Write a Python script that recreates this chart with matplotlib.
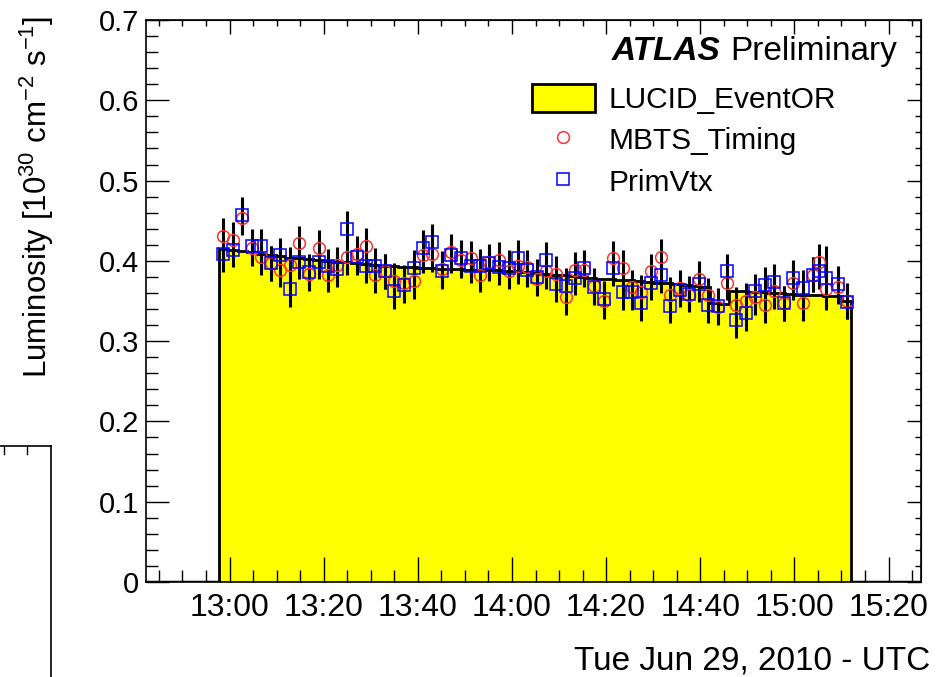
import numpy as np
import matplotlib
matplotlib.use("Agg")
import matplotlib.pyplot as plt
from matplotlib.lines import Line2D
from matplotlib.patches import Patch

plt.rcParams['font.family'] = ['Liberation Sans', 'DejaVu Sans']
plt.rcParams['mathtext.default'] = 'regular'

# minutes after 13:00 (Tue Jun 29, 2010 UTC)
times = [-1.3, 0.7, 2.7, 4.7, 6.7, 8.8, 10.8, 12.8, 14.8, 16.8,
         18.9, 20.9, 22.9, 24.9, 27.0, 29.0, 31.0, 33.0, 35.0, 37.0,
         39.1, 41.1, 43.1, 45.1, 47.1, 49.2, 51.2, 53.2, 55.2, 57.2,
         59.3, 61.3, 63.3, 65.3, 67.3, 69.4, 71.4, 73.4, 75.4, 77.4,
         79.5, 81.5, 83.5, 85.5, 87.5, 89.6, 91.6, 93.6, 95.6, 97.7,
         99.7, 101.7, 103.7, 105.6, 107.7, 109.8, 111.7, 113.8, 115.7, 117.8,
         119.8, 121.9, 123.9, 125.3, 126.8, 129.2, 131.1]

lucid = [0.415, 0.414, 0.412, 0.411, 0.409, 0.407, 0.406, 0.404, 0.403, 0.402,
         0.401, 0.400, 0.399, 0.398, 0.397, 0.396, 0.395, 0.394, 0.393, 0.392,
         0.392, 0.391, 0.391, 0.390, 0.390, 0.390, 0.389, 0.389, 0.388, 0.388,
         0.387, 0.387, 0.386, 0.385, 0.384, 0.383, 0.382, 0.381, 0.380, 0.379,
         0.378, 0.377, 0.376, 0.376, 0.375, 0.374, 0.373, 0.372, 0.371, 0.370,
         0.369, 0.368, 0.347, 0.346, 0.362, 0.362, 0.361, 0.361, 0.360, 0.360,
         0.359, 0.358, 0.357, 0.357, 0.356, 0.356, 0.350]

mbts = [0.431, 0.426, 0.454, 0.416, 0.405, 0.397, 0.389, 0.395, 0.422, 0.384,
        0.416, 0.383, 0.395, 0.405, 0.409, 0.419, 0.382, 0.387, 0.375, 0.373,
        0.375, 0.407, 0.408, 0.390, 0.411, 0.401, 0.403, 0.383, 0.399, 0.401,
        0.387, 0.393, 0.392, 0.378, 0.387, 0.384, 0.355, 0.389, 0.389, 0.369,
        0.350, 0.403, 0.391, 0.367, 0.361, 0.387, 0.405, 0.358, 0.366, 0.358,
        0.378, 0.357, 0.342, 0.373, 0.345, 0.350, 0.355, 0.345, 0.362, 0.347,
        0.373, 0.347, 0.383, 0.399, 0.365, 0.368, 0.350]

primvtx = [0.408, 0.414, 0.457, 0.418, 0.418, 0.397, 0.407, 0.365, 0.399, 0.386,
           0.399, 0.393, 0.390, 0.440, 0.405, 0.394, 0.394, 0.387, 0.362, 0.370,
           0.391, 0.416, 0.424, 0.387, 0.407, 0.404, 0.394, 0.393, 0.397, 0.392,
           0.391, 0.404, 0.389, 0.380, 0.401, 0.371, 0.369, 0.379, 0.391, 0.367,
           0.353, 0.391, 0.361, 0.361, 0.347, 0.373, 0.382, 0.344, 0.364, 0.359,
           0.371, 0.345, 0.344, 0.387, 0.326, 0.335, 0.362, 0.370, 0.374, 0.347,
           0.379, 0.366, 0.383, 0.387, 0.379, 0.371, 0.349]

mbts_err = 0.022
primvtx_err = [0.022] * 64 + [0.040, 0.022, 0.022]

tick_minutes = [0, 20, 40, 60, 80, 100, 120, 140]
tick_labels = ['13:00', '13:20', '13:40', '14:00', '14:20', '14:40', '15:00', '15:20']

edges = np.linspace(-2.25, 132.1, len(lucid) + 1)

fig = plt.figure(figsize=(9.4, 6.77), dpi=100)
ax = fig.add_axes([146 / 940, 1 - 582 / 677, 775 / 940, 562 / 677])

ax.stairs(lucid, edges, fill=True, color='#ffff00', zorder=1)
ax.stairs(lucid, edges, baseline=0, color='black', lw=2, zorder=2)
ax.plot([-20, edges[0]], [0, 0], color='black', lw=2.5, zorder=2)
ax.plot([edges[-1], 150], [0, 0], color='black', lw=2.5, zorder=2)

ax.errorbar(times, mbts, yerr=mbts_err, fmt='none', ecolor='black', elinewidth=2.2, capsize=0, zorder=3)
ax.errorbar(times, primvtx, yerr=primvtx_err, fmt='none', ecolor='black', elinewidth=2.2, capsize=0, zorder=3)
ax.plot(times, mbts, 'o', ms=8.5, mfc='none', mec='#ff3030', mew=1.1, zorder=4)
ax.plot(times, primvtx, 's', ms=8.5, mfc='none', mec='#0000ff', mew=1.1, zorder=5)

ax.set_xlim(-17.75, 146.9)
ax.set_ylim(0, 0.7)
ax.set_xticks(tick_minutes)
ax.set_xticklabels(tick_labels, fontsize=23)
ax.set_xticks(np.arange(-15, 147, 5), minor=True)
ax.set_yticks(np.arange(0, 0.71, 0.1))
ax.set_yticklabels(['0', '0.1', '0.2', '0.3', '0.4', '0.5', '0.6', '0.7'], fontsize=21)
ax.set_yticks(np.arange(0, 0.71, 0.02), minor=True)
ax.tick_params(which='both', direction='in', width=1)
ax.tick_params(axis='x', which='major', length=18, pad=8)
ax.tick_params(axis='x', which='minor', length=8.5)
ax.tick_params(axis='y', which='major', length=16.5, pad=5)
ax.tick_params(axis='y', which='minor', length=8.5)
for s in ax.spines.values():
    s.set_linewidth(1.2)

top = ax.secondary_xaxis('top')
top.set_xticks(tick_minutes)
top.set_xticks(np.arange(-15, 147, 5), minor=True)
top.tick_params(which='both', direction='in', labeltop=False, width=1)
top.tick_params(which='major', length=10)
top.tick_params(which='minor', length=4.5)
right = ax.secondary_yaxis('right')
right.set_yticks(np.arange(0, 0.71, 0.1))
right.set_yticks(np.arange(0, 0.71, 0.02), minor=True)
right.tick_params(which='both', direction='in', labelright=False, width=1)
right.tick_params(which='major', length=10)
right.tick_params(which='minor', length=4.5)

fig.text(37 / 940, 1 - 197 / 677, r'Luminosity [$10^{30}$ cm$^{-2}$ s$^{-1}$]',
         rotation=90, ha='center', va='center', fontsize=22.5)
fig.text(930 / 940, 1 - 670 / 677, 'Tue Jun 29, 2010 - UTC', ha='right', va='baseline', fontsize=24)

ax.text(0.969, 0.928, 'Preliminary', transform=ax.transAxes, ha='right', va='baseline', fontsize=24)
ax.text(0.741, 0.928, 'ATLAS', transform=ax.transAxes, ha='right', va='baseline', fontsize=24,
        fontweight='bold', fontstyle='italic')

handles = [Patch(facecolor='#ffff00', edgecolor='black', lw=2),
           Line2D([], [], ls='none', marker='o', ms=8.5, mfc='none', mec='#ff3030', mew=1.1),
           Line2D([], [], ls='none', marker='s', ms=8.5, mfc='none', mec='#0000ff', mew=1.1)]
ax.legend(handles, ['LUCID_EventOR', 'MBTS_Timing', 'PrimVtx'], loc='upper left',
          bbox_to_anchor=(0.498, 0.887), frameon=False, fontsize=21.5,
          handlelength=2.1, handleheight=1.08, handletextpad=0.45, labelspacing=0.38,
          borderaxespad=0, borderpad=0)

# fragment of neighbouring frame at left edge
fig.add_artist(Line2D([51 / 940, 51 / 940], [1 - 446 / 677, 0], transform=fig.transFigure, color='black', lw=1.2))
fig.add_artist(Line2D([0, 51 / 940], [1 - 446 / 677, 1 - 446 / 677], transform=fig.transFigure, color='black', lw=1.2))
for xp in [4, 27]:
    fig.add_artist(Line2D([xp / 940, xp / 940], [1 - 446 / 677, 1 - 454 / 677], transform=fig.transFigure,
                          color='black', lw=1))

fig.savefig('out.png', dpi=100)
